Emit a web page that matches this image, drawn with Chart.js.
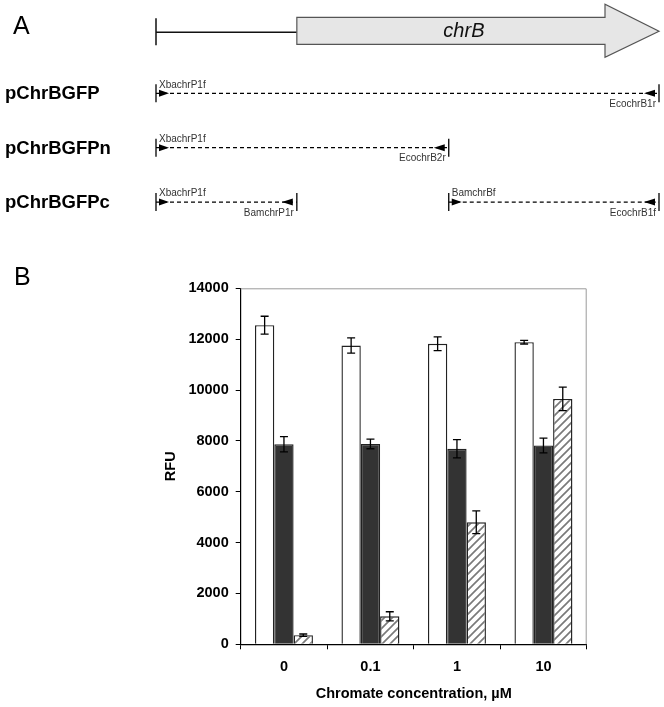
<!DOCTYPE html>
<html>
<head>
<meta charset="utf-8">
<script src="https://cdn.jsdelivr.net/npm/chart.js@4.4.0/dist/chart.umd.min.js"></script>
<style>
  html, body { margin: 0; padding: 0; background: #fff; }
  #wrap { position: relative; width: 664px; height: 707px; }
  #chartA { position: absolute; left: 0; top: 0; }
  #chartB { position: absolute; left: 0; top: 250px; }
</style>
</head>
<body>
<div id="wrap">
  <canvas id="chartA" width="664" height="250"></canvas>
  <canvas id="chartB" width="664" height="457"></canvas>
</div>
<script>
// Panel A: gene map (positions along the chrB locus, arbitrary units)
const promoterStart = 0;
const orfStart = 280;
const orfEnd = 1000;
const constructs = ['pChrBGFP', 'pChrBGFPn', 'pChrBGFPc'];
const ampRow = [1, 2, 3, 3];
const ampFrom = [0, 0, 0, 582];
const ampTo = [1000, 582, 280, 1000];
const fwdPrimer = ['XbachrP1f', 'XbachrP1f', 'XbachrP1f', 'BamchrBf'];
const revPrimer = ['EcochrB1r', 'EcochrB2r', 'BamchrP1r', 'EcochrB1f'];

// Panel B: fluorescence
const concentrations = ['0', '0.1', '1', '10'];
const rfuFull = [12550, 11750, 11820, 11880];
const errFull = [350, 300, 270, 70];
const rfuN = [7870, 7880, 7690, 7820];
const errN = [300, 190, 360, 290];
const rfuC = [360, 1100, 4800, 9650];
const errC = [45, 180, 450, 460];

const FONT = '"Liberation Sans", Arial, sans-serif';
Chart.defaults.font.family = FONT;
Chart.defaults.animation = false;

// ---------- Panel A ----------
const geneMap = {
  id: 'geneMap',
  afterDatasetsDraw(chart, args, opts) {
    const ctx = chart.ctx;
    const x = chart.scales.x, y = chart.scales.y;
    ctx.save();

    // panel letter
    ctx.fillStyle = '#000';
    ctx.font = '25px ' + FONT;
    ctx.textBaseline = 'middle';
    ctx.textAlign = 'left';
    ctx.fillText('A', 13, 27);

    // promoter line + gene arrow
    const gy = y.getPixelForValue(opts.geneTrack);
    const p0 = x.getPixelForValue(promoterStart);
    const g0 = x.getPixelForValue(orfStart);
    const g1 = x.getPixelForValue(orfEnd);
    const headStart = g1 - 54;
    ctx.strokeStyle = '#111';
    ctx.lineWidth = 1.5;
    ctx.beginPath();
    ctx.moveTo(p0, gy + 1); ctx.lineTo(g0, gy + 1);
    ctx.moveTo(p0, gy - 13); ctx.lineTo(p0, gy + 14);
    ctx.stroke();

    ctx.beginPath();
    ctx.moveTo(g0, gy - 14);
    ctx.lineTo(headStart, gy - 14);
    ctx.lineTo(headStart, gy - 27);
    ctx.lineTo(g1, gy);
    ctx.lineTo(headStart, gy + 26);
    ctx.lineTo(headStart, gy + 13);
    ctx.lineTo(g0, gy + 13);
    ctx.closePath();
    ctx.fillStyle = '#e6e6e6';
    ctx.fill();
    ctx.strokeStyle = '#555';
    ctx.lineWidth = 1.2;
    ctx.stroke();

    ctx.fillStyle = '#111';
    ctx.font = 'italic 20px ' + FONT;
    ctx.textAlign = 'center';
    ctx.fillText('chrB', (g0 + headStart) / 2 + 13, gy);

    // construct names
    ctx.font = 'bold 18.5px ' + FONT;
    ctx.textAlign = 'left';
    ctx.fillStyle = '#000';
    constructs.forEach((name, i) => {
      ctx.fillText(name, 5, y.getPixelForValue(i + 1) + 1);
    });

    // primer arrowheads and names
    ctx.font = '10px ' + FONT;
    ampRow.forEach((row, i) => {
      const ly = y.getPixelForValue(row);
      const a = x.getPixelForValue(ampFrom[i]);
      const b = x.getPixelForValue(ampTo[i]);
      ctx.fillStyle = '#000';
      ctx.beginPath();
      ctx.moveTo(a + 3, ly - 3.5); ctx.lineTo(a + 13, ly); ctx.lineTo(a + 3, ly + 3.5);
      ctx.closePath(); ctx.fill();
      ctx.beginPath();
      ctx.moveTo(b - 4, ly - 3.5); ctx.lineTo(b - 15, ly); ctx.lineTo(b - 4, ly + 3.5);
      ctx.closePath(); ctx.fill();

      ctx.fillStyle = '#333';
      ctx.textAlign = 'left';
      ctx.fillText(fwdPrimer[i], a + 3, ly - 8.5);
      ctx.textAlign = 'right';
      ctx.fillText(revPrimer[i], b - 3, ly + 11);
    });
    ctx.restore();
  }
};

new Chart(document.getElementById('chartA'), {
  type: 'line',
  data: {
    datasets: ampRow.map((row, i) => ({
      data: [{ x: ampFrom[i], y: row }, { x: ampTo[i], y: row }],
      borderColor: '#000',
      borderWidth: 1.3,
      borderDash: [4, 3],
      pointStyle: 'line',
      pointRotation: 90,
      pointRadius: 9,
      pointBorderColor: '#000',
      pointBorderWidth: 1.3,
      clip: false
    }))
  },
  options: {
    responsive: false,
    events: [],
    layout: { autoPadding: false, padding: { left: 156, right: 5, top: 0, bottom: 0 } },
    plugins: {
      legend: { display: false },
      tooltip: { enabled: false },
      geneMap: { geneTrack: -0.14 }
    },
    scales: {
      x: { type: 'linear', min: 0, max: 1000, display: false },
      y: { type: 'linear', min: -0.715, max: 3.881, reverse: true, display: false }
    }
  },
  plugins: [geneMap]
});

// ---------- Panel B ----------
function hatch() {
  const c = document.createElement('canvas');
  c.width = 8; c.height = 8;
  const g = c.getContext('2d');
  g.fillStyle = '#fff';
  g.fillRect(0, 0, 8, 8);
  g.strokeStyle = '#7a7a7a';
  g.lineWidth = 1.7;
  g.beginPath();
  g.moveTo(0, 8); g.lineTo(8, 0);
  g.moveTo(-2, 2); g.lineTo(2, -2);
  g.moveTo(6, 10); g.lineTo(10, 6);
  g.stroke();
  return document.createElement('canvas').getContext('2d').createPattern(c, 'repeat');
}

const errorBars = {
  id: 'errorBars',
  beforeDatasetsDraw(chart) {
    const { ctx, chartArea: a } = chart;
    ctx.save();
    ctx.strokeStyle = '#9a9a9a';
    ctx.lineWidth = 1;
    ctx.beginPath();
    ctx.moveTo(a.left, a.top + 0.5); ctx.lineTo(a.right - 0.5, a.top + 0.5);
    ctx.lineTo(a.right - 0.5, a.bottom);
    ctx.stroke();
    ctx.restore();
  },
  afterDatasetsDraw(chart) {
    const ctx = chart.ctx;
    const ys = chart.scales.y;
    ctx.save();
    ctx.strokeStyle = '#000';
    ctx.lineWidth = 1.3;
    chart.data.datasets.forEach((ds, i) => {
      chart.getDatasetMeta(i).data.forEach((bar, j) => {
        const v = ds.data[j], e = ds.errors[j];
        const t = ys.getPixelForValue(v + e), b = ys.getPixelForValue(v - e);
        ctx.beginPath();
        ctx.moveTo(bar.x, t); ctx.lineTo(bar.x, b);
        ctx.moveTo(bar.x - 4, t); ctx.lineTo(bar.x + 4, t);
        ctx.moveTo(bar.x - 4, b); ctx.lineTo(bar.x + 4, b);
        ctx.stroke();
      });
    });
    ctx.fillStyle = '#000';
    ctx.font = '25px ' + FONT;
    ctx.textBaseline = 'middle';
    ctx.fillText('B', 14, 28);
    ctx.restore();
  }
};

const axisFont = { family: FONT, size: 14.5, weight: 'bold' };

new Chart(document.getElementById('chartB'), {
  type: 'bar',
  data: {
    labels: concentrations,
    datasets: [
      { label: 'pChrBGFP', data: rfuFull, errors: errFull, backgroundColor: '#fff' },
      { label: 'pChrBGFPn', data: rfuN, errors: errN, backgroundColor: '#333' },
      { label: 'pChrBGFPc', data: rfuC, errors: errC, backgroundColor: hatch() }
    ]
  },
  options: {
    responsive: false,
    events: [],
    categoryPercentage: 0.67,
    barPercentage: 1,
    borderColor: '#222',
    borderWidth: 1.4,
    layout: { padding: { left: 160, right: 77.3, top: 38.3, bottom: 0 } },
    plugins: { legend: { display: false }, tooltip: { enabled: false } },
    scales: {
      x: {
        grid: { drawOnChartArea: false, tickLength: 5, color: '#000', offset: true },
        border: { color: '#000', width: 1.2 },
        ticks: { font: axisFont, color: '#000', padding: 9 },
        title: { display: true, text: 'Chromate concentration, µM', font: axisFont, color: '#000', padding: { top: 10, bottom: 4.6 } },
        afterFit(s) { s.height = 62.7; }
      },
      y: {
        min: 0,
        max: 14000,
        grid: { drawOnChartArea: false, tickLength: 5, color: '#000' },
        border: { color: '#000', width: 1.2 },
        ticks: { stepSize: 2000, font: axisFont, color: '#000', padding: 7, callback: v => String(v) },
        title: { display: true, text: 'RFU', font: axisFont, color: '#000', padding: { top: 2, bottom: 0 } },
        afterFit(s) { s.width = 80.7; }
      }
    }
  },
  plugins: [errorBars]
});
</script>
</body>
</html>
